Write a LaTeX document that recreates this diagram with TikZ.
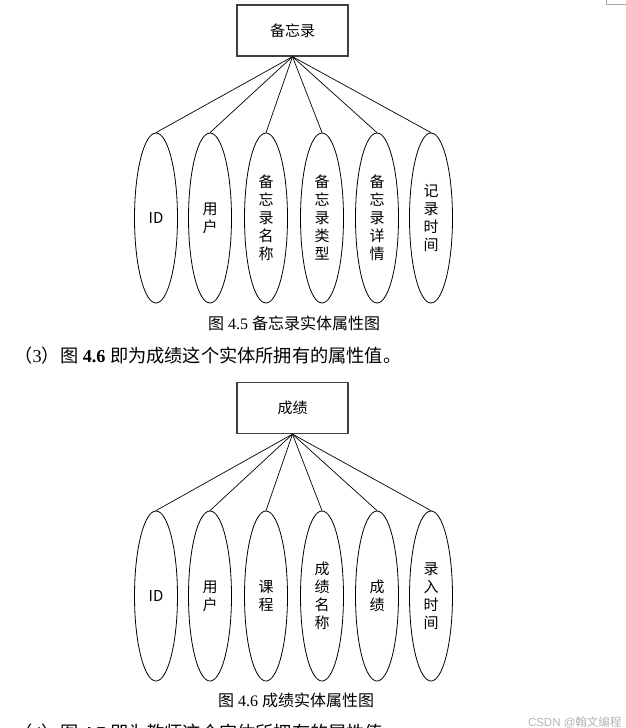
\documentclass[tikz,border=0pt]{standalone}
\usepackage{fontspec}
\setmainfont{Liberation Serif}
\setsansfont{Liberation Sans}
\newfontfamily\cjk{Noto Sans CJK SC}
\usetikzlibrary{shapes.geometric,positioning}
\tikzset{
  entity/.style={draw=black!75,line width=1.3pt,minimum width=111pt,minimum height=51pt,
    font=\cjk\fontsize{15}{18}\selectfont},
  attr/.style={draw,ellipse,line width=0.8pt,inner sep=0pt,minimum width=43pt,minimum height=170pt,
    align=center,font=\cjk\fontsize{15}{18}\selectfont},
  link/.style={line width=0.7pt},
  caption/.style={font=\fontsize{16}{19}\selectfont},
  bodytext/.style={anchor=west,font=\fontsize{18.2}{22}\selectfont},
}

\begin{document}
\begin{tikzpicture}[x=1pt,y=-1pt]
  \useasboundingbox (0,0) rectangle (626,728);
  \clip (0,0) rectangle (626,728);
  % page corner mark
  \draw[black!35,line width=0.8pt] (606,0) -- (606,4) -- (626,4);

  % Memo entity and its attributes
  \node[entity] (memo) at (292.5,30.5) {备忘录};
  \foreach \i/\x/\t in {1/156/ID, 2/210/用\\户, 3/266/备\\忘\\录\\名\\称,
      4/322/备\\忘\\录\\类\\型, 5/377/备\\忘\\录\\详\\情, 6/431/记\\录\\时\\间} {
    \node[attr] (m\i) at (\x,218) {\t};
    \draw[link] (memo.south) -- (m\i.north);
  }
  \node[caption] (cap1) at (294,323) {{\cjk 图} 4.5 {\cjk 备忘录实体属性图}};

  % Text between the figures
  \node[bodytext] (para) at (11,356) {{\cjk （}3{\cjk ）图} \textbf{4.6} {\cjk 即为成绩这个实体所拥有的属性值。}};

  % Score entity and its attributes
  \node[entity] (score) at (292.5,408) {成绩};
  \foreach \i/\x/\t in {1/156/ID, 2/210/用\\户, 3/266/课\\程, 4/322/成\\绩\\名\\称,
      5/377/成\\绩, 6/431/录\\入\\时\\间} {
    \node[attr] (s\i) at (\x,596) {\t};
    \draw[link] (score.south) -- (s\i.north);
  }
  \node[caption] (cap2) at (296,700) {{\cjk 图} 4.6 {\cjk 成绩实体属性图}};

  % Next line, cut off by the page edge
  \node[bodytext] (next) at (11,733) {{\cjk （}4{\cjk ）图} \textbf{4.7} {\cjk 即为教师这个实体所拥有的属性值。}};
  \node[anchor=east,text=black!30,font=\sffamily\fontsize{11.5}{13}\selectfont] (mark) at (625,722) {CSDN @{\cjk 翰文编程}};
\end{tikzpicture}
\end{document}
